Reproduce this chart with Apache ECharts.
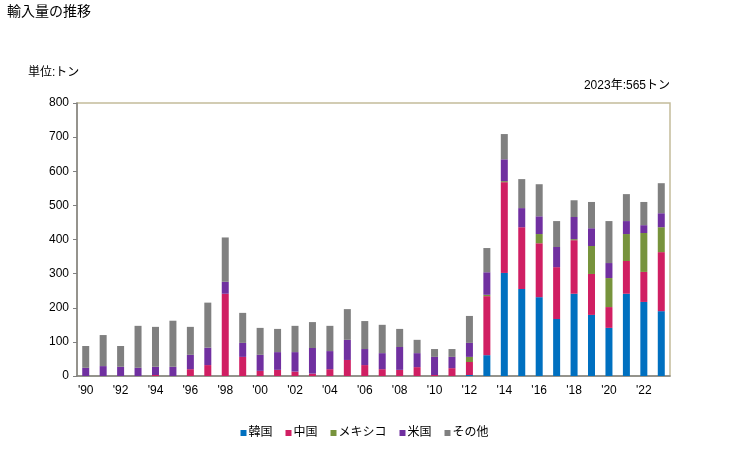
<!DOCTYPE html>
<html>
<head>
<meta charset="utf-8">
<script src="https://cdn.jsdelivr.net/npm/echarts@6/dist/echarts.min.js"></script>
<style>
  html, body { margin: 0; padding: 0; background: #fff; }
  #chart { width: 729px; height: 450px; }
</style>
</head>
<body>
<div id="chart"></div>
<script>
// 年（1990〜2023）
const years = [];
for (let y = 1990; y <= 2023; y++) years.push(y);
const yearLabels = years.map(y => "'" + String(y).slice(2));

// 国別の輸入量（トン）
const korea  = [0,0,0,0,0,0,0,0,0,0, 0,0,0,0,0,0,0,0,0,0, 0,0,3,61,302,255,231,167,241,179, 141,241,217,190];
const china  = [0,0,0,0,3,0,20,32,241,56, 15,18,13,7,20,47,32,20,18,26, 3,23,38,173,266,181,158,152,157,120, 61,96,88,173];
const mexico = [0,0,0,0,0,0,0,0,0,0, 0,0,0,0,0,0,0,0,0,0, 0,0,15,4,3,0,27,0,3,82, 85,79,114,73];
const usa    = [24,29,27,24,24,27,42,51,35,41, 47,52,57,75,53,59,47,47,67,41, 53,33,41,66,64,56,52,59,65,52, 44,38,23,41];
const other  = [64,91,61,123,117,135,82,132,130,88, 79,68,77,76,74,90,82,83,53,39, 23,23,79,71,74,85,94,76,49,77, 123,79,68,88];

const seriesNames = ["韓国", "中国", "メキシコ", "米国", "その他"];
const seriesData = [korea, china, mexico, usa, other];
const colors = ["#0070C0", "#D01F63", "#77933C", "#7030A0", "#808080"];

const font = "'Liberation Sans', 'Noto Sans CJK JP', sans-serif";

const chart = echarts.init(document.getElementById("chart"));
chart.setOption({
  backgroundColor: "#fff",
  animation: false,
  textStyle: { fontFamily: font },
  title: [
    { text: "輸入量の推移", left: 7, top: 5, padding: 0,
      textStyle: { fontSize: 14, fontWeight: "normal", color: "#000", fontFamily: font } },
    { text: "単位:トン", left: 28, top: 67, padding: 0,
      textStyle: { fontSize: 12, fontWeight: "normal", color: "#000", fontFamily: font } },
    { text: "2023年:565トン", right: 59, top: 80, padding: 0,
      textStyle: { fontSize: 12, fontWeight: "normal", color: "#000", fontFamily: font } }
  ],
  legend: {
    bottom: 6,
    left: "center",
    itemWidth: 6,
    itemHeight: 6,
    itemGap: 13,
    icon: "rect",
    textStyle: { fontSize: 12, color: "#000", fontFamily: font, padding: [0, 0, 0, -3] },
    data: seriesNames
  },
  // プロット枠（上・右は薄い茶色、左・下は軸線で上書き）
  grid: {
    left: 77, right: 59, top: 103, bottom: 74,
    show: true, borderColor: "#C4BC9A", borderWidth: 1.5,
    containLabel: false
  },
  xAxis: {
    type: "category",
    data: yearLabels,
    axisLine: { lineStyle: { color: "#808080", width: 1.5 } },
    axisTick: { show: false },
    axisLabel: {
      interval: 1,
      color: "#000",
      fontSize: 12,
      margin: 9,
      fontFamily: font
    }
  },
  yAxis: {
    type: "value",
    min: 0,
    max: 800,
    interval: 100,
    axisLine: { show: true, lineStyle: { color: "#808080", width: 1.5 } },
    axisTick: { show: true, length: 4, lineStyle: { color: "#808080" } },
    splitLine: { show: false },
    axisLabel: { color: "#000", fontSize: 12, margin: 8, fontFamily: font }
  },
  series: seriesNames.map((name, i) => ({
    name: name,
    type: "bar",
    stack: "total",
    barWidth: 7,
    itemStyle: { color: colors[i] },
    data: seriesData[i]
  }))
});
</script>
</body>
</html>
